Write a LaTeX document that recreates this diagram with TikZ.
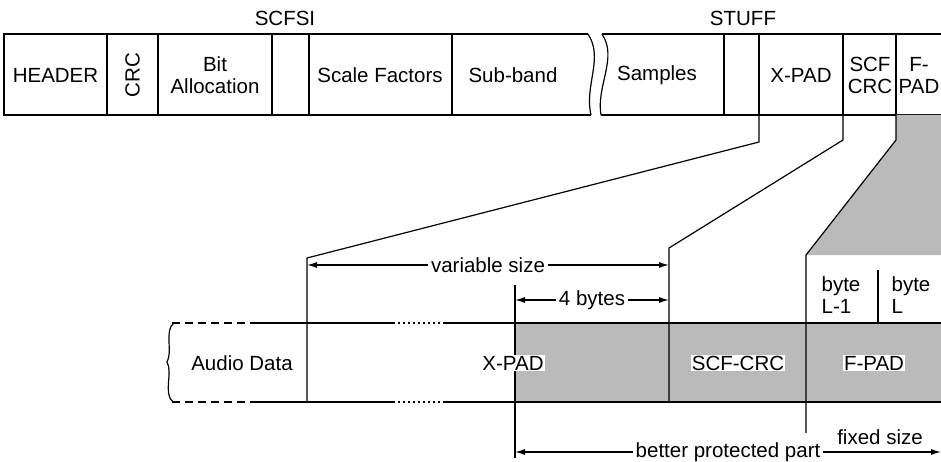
\documentclass[tikz,border=0pt]{standalone}
\usepackage{fontspec}
\setmainfont{Liberation Sans}
\usetikzlibrary{arrows.meta,positioning}

\begin{document}
\begin{tikzpicture}[x=1pt,y=-1pt,line width=1.2pt,
    txt/.style={font=\fontsize{20.5}{22}\selectfont,inner sep=1pt},
    lbl/.style={txt,fill=white},
    dim/.style={{Latex[length=10pt,width=6pt]}-{Latex[length=10pt,width=6pt]}},
    shade/.style={fill=black!27,draw=none}]
   \useasboundingbox (0,0) rectangle (941,462);
   % frame of the audio frame
   \draw (588,34) -- (4,34) -- (4,115) -- (591,115);
   \draw (602,34) -- (941,34);
   \draw (601,115) -- (941,115);
   \draw (588,34) .. controls (604,58) and (584,86) .. (591,115);
   \draw (602,34) .. controls (618,58) and (596,86) .. (601,115);
   \foreach \x in {107,158,272,309,452,724,759,843,896}
      \draw (\x,34) -- (\x,115);
   \node [txt] (hdr) at (55.5,75) {HEADER};
   \node [txt,rotate=90] (crc) at (132.5,75) {CRC};
   \node [txt,align=center] (ba) at (215,75) {Bit\\Allocation};
   \node [txt] (sf) at (380,75) {Scale Factors};
   \node [txt] (sb) at (513,75) {Sub-band};
   \node [txt] (smp) at (657,75) {Samples};
   \node [txt] (xp) at (801,75) {X-PAD};
   \node [txt,align=center] (scf) at (870,75) {SCF\\CRC};
   \node [txt,align=center] (fp) at (919,75) {F-\\PAD};
   \node [txt] (scfsi) at (285,18) {SCFSI};
   \node [txt] (stuff) at (743,18) {STUFF};
   % zoom lines
   \coordinate (a_0) at (759,115); \coordinate (a_1) at (759,142);
   \coordinate (a_2) at (307,258); \coordinate (a_3) at (307,402);
   \coordinate (b_0) at (843,115); \coordinate (b_1) at (843,140);
   \coordinate (b_2) at (669,248); \coordinate (b_3) at (669,402);
   \coordinate (c_0) at (896,115); \coordinate (c_1) at (896,140);
   \coordinate (c_2) at (806,255); \coordinate (c_3) at (806,433);
   \fill [shade] (c_0) -- (941,115) -- (941,255) -- (c_2) -- (c_1) -- cycle;
   \fill [shade] (515,323) rectangle (941,402);
   \draw (a_0) -- (a_1) -- (a_2) -- (a_3);
   \draw (b_0) -- (b_1) -- (b_2) -- (b_3);
   \draw (c_0) -- (c_1) -- (c_2) -- (c_3);
   % audio data band
   \foreach \y in {323,402} {
      \draw [dash pattern=on 8pt off 5pt] (172,\y) -- (253,\y);
      \draw (253,\y) -- (393,\y);
      \draw [dash pattern=on 2pt off 3pt] (393,\y) -- (445,\y);
      \draw (445,\y) -- (941,\y);
   }
   \draw (174,323) .. controls (164,330) and (173,352) .. (167,362)
         .. controls (173,372) and (163,394) .. (173,402);
   \coordinate (p_0) at (515,285); \coordinate (p_1) at (515,458);
   \draw (p_0) -- (p_1);
   \draw (878,270) -- (878,323);
   \node [txt] (ad) at (242,363) {Audio Data};
   \node [lbl] (xpad) at (513,363) {X-PAD};
   \node [lbl] (scfcrc) at (738,363) {SCF-CRC};
   \node [lbl] (fpad) at (874,363) {F-PAD};
   \node [txt,align=left,anchor=west] (bl1) at (820,295) {byte\\L-1};
   \node [txt,align=left,anchor=west] (bl) at (890,295) {byte\\L};
   % dimensions
   \coordinate (v_0) at (307,265); \coordinate (v_1) at (669,265);
   \coordinate (f_0) at (515,300); \coordinate (f_1) at (669,300);
   \coordinate (g_0) at (515,452); \coordinate (g_1) at (941,452);
   \draw [dim] (v_0) -- node [lbl,inner xsep=3pt] (vs) {variable size} (v_1);
   \draw [dim] (f_0) -- node [lbl,inner xsep=3pt] (fb) {4 bytes} (f_1);
   \draw [dim] (g_0) -- node [lbl,inner xsep=3pt] (bp) {better protected part} (g_1);
   \node [txt] (fs) at (880,437) {fixed size};
\end{tikzpicture}
\end{document}
